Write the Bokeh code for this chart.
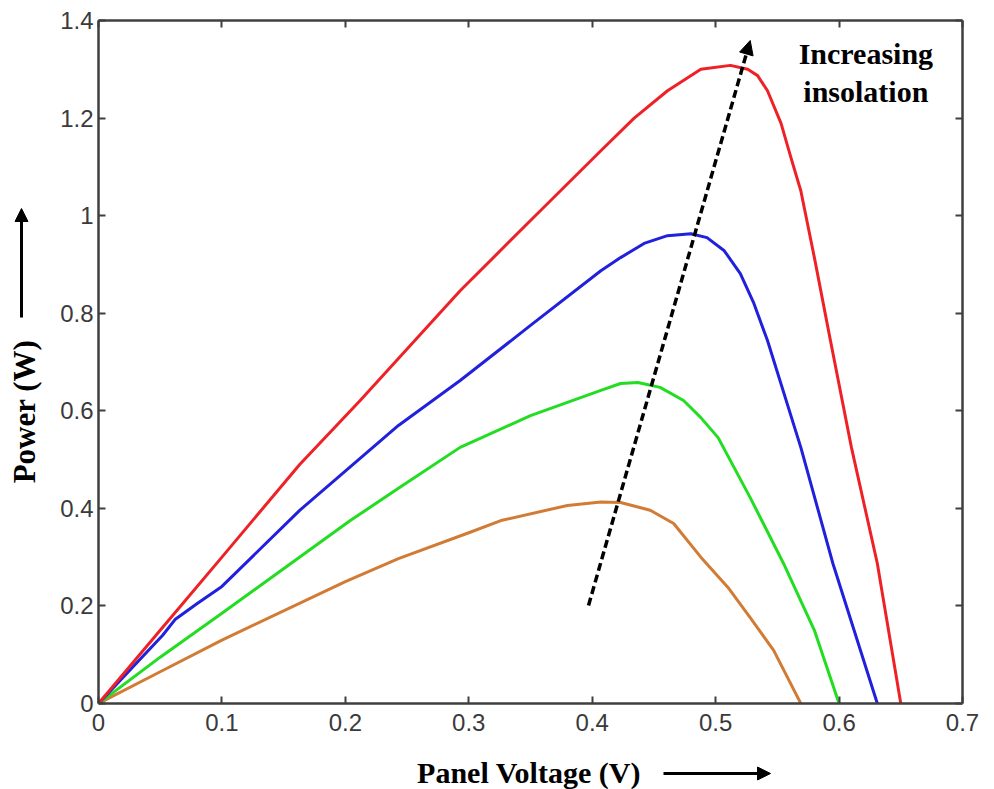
import math
from bokeh.plotting import figure
from bokeh.layouts import column
from bokeh.models import (Range1d, LinearAxis, FixedTicker, Label, Arrow,
                          NormalHead, CustomJSTickFormatter)
from bokeh.embed import file_html
from bokeh.resources import INLINE

# P-V characteristics of a PV cell at four insolation levels
v_high = [0, 0.05, 0.1, 0.163, 0.212, 0.293, 0.35, 0.407, 0.434, 0.461,
          0.488, 0.512, 0.526, 0.534, 0.542, 0.553, 0.561, 0.569, 0.580,
          0.593, 0.610, 0.631, 0.650]
p_high = [0, 0.15, 0.30, 0.49, 0.621, 0.846, 0.99, 1.133, 1.20, 1.256,
          1.30, 1.308, 1.30, 1.287, 1.256, 1.189, 1.119, 1.051, 0.914,
          0.744, 0.525, 0.287, 0]

v_mid_high = [0, 0.052, 0.062, 0.08, 0.1, 0.163, 0.243, 0.293, 0.35, 0.407,
              0.423, 0.442, 0.461, 0.48, 0.493, 0.507, 0.52, 0.531, 0.542,
              0.569, 0.595, 0.631]
p_mid_high = [0, 0.14, 0.172, 0.205, 0.24, 0.396, 0.570, 0.662, 0.775, 0.887,
              0.914, 0.943, 0.959, 0.963, 0.955, 0.928, 0.881, 0.820, 0.744,
              0.525, 0.287, 0]

v_mid_low = [0, 0.05, 0.1, 0.204, 0.243, 0.293, 0.35, 0.407, 0.423, 0.437,
             0.455, 0.474, 0.488, 0.502, 0.528, 0.555, 0.580, 0.600]
p_mid_low = [0, 0.095, 0.185, 0.375, 0.441, 0.525, 0.59, 0.642, 0.656, 0.658,
             0.648, 0.621, 0.586, 0.545, 0.422, 0.287, 0.150, 0]

v_low = [0, 0.05, 0.1, 0.2, 0.243, 0.3, 0.326, 0.38, 0.407, 0.423, 0.447,
         0.466, 0.488, 0.51, 0.528, 0.547, 0.569]
p_low = [0, 0.065, 0.13, 0.25, 0.297, 0.35, 0.375, 0.406, 0.413, 0.412, 0.396,
         0.369, 0.30, 0.238, 0.176, 0.109, 0]

x_ticks = [0, 0.1, 0.2, 0.3, 0.4, 0.5, 0.6, 0.7]
x_tick_labels = ["0", "0.1", "0.2", "0.3", "0.4", "0.5", "0.6", "0.7"]
y_ticks = [0, 0.2, 0.4, 0.6, 0.8, 1, 1.2, 1.4]
y_tick_labels = ["0", "0.2", "0.4", "0.6", "0.8", "1", "1.2", "1.4"]

# direction of increasing insolation (start -> end, data units)
trend_start = (0.397, 0.201)
trend_end = (0.528, 1.359)

AXIS_COLOR = "#3f3f3f"
TICK_COLOR = "#3a3a3a"
SERIF = "Liberation Serif"
W, H = 994, 789

p = figure(width=W, height=H, output_backend="svg", toolbar_location=None,
           x_range=Range1d(0, 0.7), y_range=Range1d(0, 1.4),
           x_axis_type=None, y_axis_type=None,
           min_border_left=98, min_border_right=32,
           min_border_top=20, min_border_bottom=86)
p.frame_align = False
p.outline_line_color = None
p.background_fill_color = "white"
p.border_fill_color = "white"
p.xgrid.visible = False
p.ygrid.visible = False


def make_axis(ticks, labels, show_labels):
    ax = LinearAxis(ticker=FixedTicker(ticks=ticks))
    ax.axis_line_color = AXIS_COLOR
    ax.axis_line_width = 2.5
    ax.major_tick_line_color = AXIS_COLOR
    ax.major_tick_line_width = 2
    ax.major_tick_in = 7
    ax.major_tick_out = 0
    ax.minor_tick_line_color = None
    if show_labels:
        ax.major_label_overrides = {t: s for t, s in zip(ticks, labels)}
        ax.major_label_text_font = "Liberation Sans"
        ax.major_label_text_font_size = "24px"
        ax.major_label_text_color = TICK_COLOR
    else:
        ax.formatter = CustomJSTickFormatter(code="return ''")
        ax.major_label_text_font_size = "1px"
        ax.major_label_standoff = 0
    return ax


bottom = make_axis(x_ticks, x_tick_labels, True)
bottom.major_label_standoff = 10
left = make_axis(y_ticks, y_tick_labels, True)
left.major_label_standoff = 5
p.add_layout(bottom, "below")
p.add_layout(left, "left")
p.add_layout(make_axis(x_ticks, x_tick_labels, False), "above")
p.add_layout(make_axis(y_ticks, y_tick_labels, False), "right")

series = [
    (v_low, p_low, "#d27b34"),
    (v_mid_low, p_mid_low, "#22dd22"),
    (v_mid_high, p_mid_high, "#2020dd"),
    (v_high, p_high, "#ee2226"),
]
for vs, ps, color in series:
    p.line(vs, ps, line_color=color, line_width=3, line_join="round")

# dashed trend arrow
p.add_layout(Arrow(x_start=trend_start[0], y_start=trend_start[1],
                   x_end=trend_end[0], y_end=trend_end[1],
                   line_color="black", line_width=3.5, line_dash="8 4",
                   end=NormalHead(size=14, fill_color="black",
                                  line_color="black", line_width=1)))

for txt, yv in (("Increasing", 1.332), ("insolation", 1.255)):
    p.add_layout(Label(x=0.6217, y=yv, text=txt, text_align="center",
                       text_baseline="middle", text_font=SERIF,
                       text_font_style="bold", text_font_size="30px",
                       text_color="black"))

# transparent layer over the chart (pixel coordinates, y downwards) that
# carries the axis titles and their arrows outside the plotting frame
ov = figure(width=W, height=H, output_backend="svg", toolbar_location=None,
            x_range=Range1d(0, W), y_range=Range1d(H, 0),
            x_axis_type=None, y_axis_type=None, min_border=0,
            background_fill_color=None, border_fill_color=None,
            outline_line_color=None)
ov.frame_align = False
ov.grid.visible = False
ov.margin = (-H, 0, 0, 0)

ov.add_layout(Label(x=528.5, y=772, text="Panel Voltage (V)",
                    text_align="center", text_baseline="middle",
                    text_font=SERIF, text_font_style="bold",
                    text_font_size="30px", text_color="black"))
ov.add_layout(Arrow(x_start=663, y_start=773, x_end=770, y_end=773,
                    line_color="black", line_width=3,
                    end=NormalHead(size=13, fill_color="black",
                                   line_color="black", line_width=1)))

ov.add_layout(Label(x=24, y=411, text="Power (W)", angle=math.pi / 2,
                    text_align="center", text_baseline="middle",
                    text_font=SERIF, text_font_style="bold",
                    text_font_size="31px", text_color="black"))
ov.add_layout(Arrow(x_start=21, y_start=317, x_end=21, y_end=208,
                    line_color="black", line_width=3,
                    end=NormalHead(size=13, fill_color="black",
                                   line_color="black", line_width=1)))

page = column(p, ov, spacing=0)
open("out.html", "w").write(file_html(page, INLINE))
